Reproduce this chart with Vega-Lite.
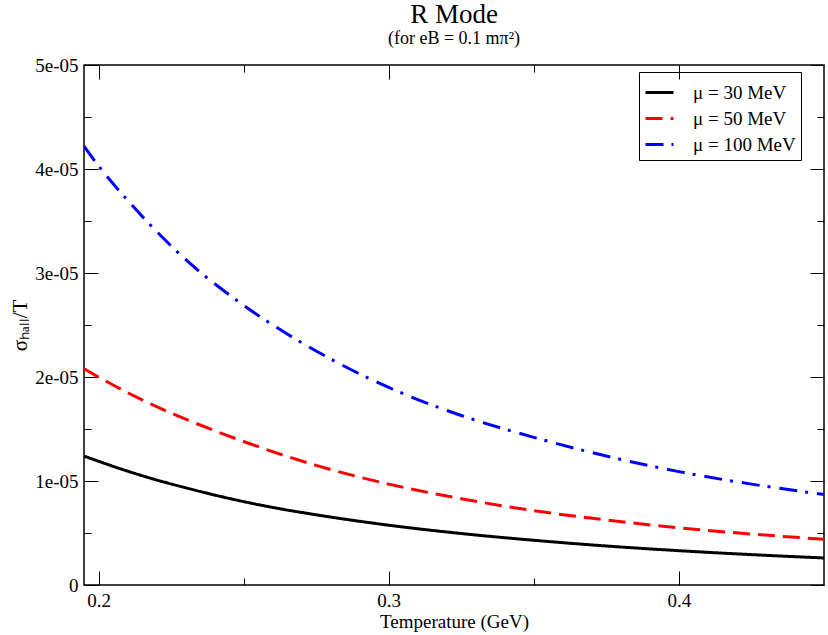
{
  "$schema": "https://vega.github.io/schema/vega-lite/v6.json",
  "width": 740,
  "height": 520,
  "autosize": "none",
  "padding": {"left": 84, "top": 65, "right": 4, "bottom": 50},
  "background": "white",
  "title": {
    "text": "R Mode",
    "subtitle": "(for eB = 0.1 mπ²)",
    "font": "Liberation Serif",
    "fontSize": 27,
    "fontWeight": "normal",
    "subtitleFont": "Liberation Serif",
    "subtitleFontSize": 18,
    "subtitlePadding": 1,
    "anchor": "middle",
    "offset": 7,
    "color": "black",
    "subtitleColor": "black"
  },
  "config": {
    "view": {"stroke": "black", "strokeWidth": 1.5},
    "axis": {
      "labelFont": "Liberation Serif",
      "titleFont": "Liberation Serif",
      "labelFontSize": 19,
      "titleFontSize": 19,
      "titleFontWeight": "normal",
      "labelColor": "black",
      "titleColor": "black",
      "tickColor": "black",
      "tickWidth": 1,
      "domain": false,
      "grid": false
    },
    "legend": {
      "labelFont": "Liberation Serif",
      "labelFontSize": 19,
      "labelColor": "black"
    }
  },
  "data": {
    "values": [
      {"T": 0.195, "value": 1.24e-5, "mu": "μ = 30 MeV"},
      {"T": 0.2, "value": 1.19e-5, "mu": "μ = 30 MeV"},
      {"T": 0.21, "value": 1.095e-5, "mu": "μ = 30 MeV"},
      {"T": 0.22, "value": 1.01e-5, "mu": "μ = 30 MeV"},
      {"T": 0.23, "value": 0.935e-5, "mu": "μ = 30 MeV"},
      {"T": 0.24, "value": 0.865e-5, "mu": "μ = 30 MeV"},
      {"T": 0.25, "value": 0.802e-5, "mu": "μ = 30 MeV"},
      {"T": 0.26, "value": 0.746e-5, "mu": "μ = 30 MeV"},
      {"T": 0.275, "value": 0.675e-5, "mu": "μ = 30 MeV"},
      {"T": 0.3, "value": 0.575e-5, "mu": "μ = 30 MeV"},
      {"T": 0.325, "value": 0.495e-5, "mu": "μ = 30 MeV"},
      {"T": 0.35, "value": 0.43e-5, "mu": "μ = 30 MeV"},
      {"T": 0.375, "value": 0.375e-5, "mu": "μ = 30 MeV"},
      {"T": 0.4, "value": 0.33e-5, "mu": "μ = 30 MeV"},
      {"T": 0.425, "value": 0.292e-5, "mu": "μ = 30 MeV"},
      {"T": 0.45, "value": 0.26e-5, "mu": "μ = 30 MeV"},
      {"T": 0.195, "value": 2.08e-5, "mu": "μ = 50 MeV"},
      {"T": 0.2, "value": 2.0e-5, "mu": "μ = 50 MeV"},
      {"T": 0.21, "value": 1.85e-5, "mu": "μ = 50 MeV"},
      {"T": 0.22, "value": 1.715e-5, "mu": "μ = 50 MeV"},
      {"T": 0.23, "value": 1.595e-5, "mu": "μ = 50 MeV"},
      {"T": 0.25, "value": 1.38e-5, "mu": "μ = 50 MeV"},
      {"T": 0.275, "value": 1.15e-5, "mu": "μ = 50 MeV"},
      {"T": 0.3, "value": 0.97e-5, "mu": "μ = 50 MeV"},
      {"T": 0.325, "value": 0.83e-5, "mu": "μ = 50 MeV"},
      {"T": 0.35, "value": 0.715e-5, "mu": "μ = 50 MeV"},
      {"T": 0.375, "value": 0.625e-5, "mu": "μ = 50 MeV"},
      {"T": 0.4, "value": 0.55e-5, "mu": "μ = 50 MeV"},
      {"T": 0.425, "value": 0.49e-5, "mu": "μ = 50 MeV"},
      {"T": 0.45, "value": 0.44e-5, "mu": "μ = 50 MeV"},
      {"T": 0.195, "value": 4.22e-5, "mu": "μ = 100 MeV"},
      {"T": 0.2, "value": 4.03e-5, "mu": "μ = 100 MeV"},
      {"T": 0.21, "value": 3.7e-5, "mu": "μ = 100 MeV"},
      {"T": 0.22, "value": 3.4e-5, "mu": "μ = 100 MeV"},
      {"T": 0.23, "value": 3.13e-5, "mu": "μ = 100 MeV"},
      {"T": 0.25, "value": 2.69e-5, "mu": "μ = 100 MeV"},
      {"T": 0.275, "value": 2.25e-5, "mu": "μ = 100 MeV"},
      {"T": 0.3, "value": 1.9e-5, "mu": "μ = 100 MeV"},
      {"T": 0.325, "value": 1.63e-5, "mu": "μ = 100 MeV"},
      {"T": 0.35, "value": 1.42e-5, "mu": "μ = 100 MeV"},
      {"T": 0.375, "value": 1.24e-5, "mu": "μ = 100 MeV"},
      {"T": 0.4, "value": 1.09e-5, "mu": "μ = 100 MeV"},
      {"T": 0.425, "value": 0.97e-5, "mu": "μ = 100 MeV"},
      {"T": 0.45, "value": 0.87e-5, "mu": "μ = 100 MeV"}
    ]
  },
  "resolve": {"axis": {"x": "independent", "y": "independent"}},
  "layer": [
    {
      "mark": {"type": "line", "strokeWidth": 3, "interpolate": "monotone", "clip": true},
      "encoding": {
        "x": {
          "field": "T", "type": "quantitative",
          "scale": {"domain": [0.195, 0.45], "nice": false, "zero": false},
          "axis": {
            "orient": "bottom", "values": [0.2, 0.3, 0.4], "format": ".1f",
            "tickSize": -14, "labelPadding": 20, "title": "Temperature (GeV)", "titlePadding": 2
          }
        },
        "y": {
          "field": "value", "type": "quantitative",
          "scale": {"domain": [0, 5e-5], "nice": false},
          "axis": {
            "orient": "left", "values": [0, 1e-5, 2e-5, 3e-5, 4e-5, 5e-5],
            "labelExpr": "datum.value == 0 ? '0' : round(datum.value * 1e5) + 'e-05'",
            "tickSize": -14, "labelPadding": 20, "title": "σₕₐₗₗ/T", "titleFontSize": 21, "titlePadding": 4
          }
        },
        "color": {
          "field": "mu", "type": "nominal",
          "scale": {"domain": ["μ = 30 MeV", "μ = 50 MeV", "μ = 100 MeV"], "range": ["#000000", "#ff0000", "#0000ff"]},
          "legend": {
            "title": null, "orient": "none", "legendX": 555, "legendY": 7,
            "symbolType": "stroke", "symbolSize": 784, "symbolStrokeWidth": 3,
            "strokeColor": "black", "padding": 5, "rowPadding": 0, "labelOffset": 18
          }
        },
        "strokeDash": {
          "field": "mu", "type": "nominal",
          "scale": {"domain": ["μ = 30 MeV", "μ = 50 MeV", "μ = 100 MeV"], "range": [[1, 0], [17, 8], [18, 8, 3, 9]]},
          "legend": {
            "title": null, "orient": "none", "legendX": 555, "legendY": 7,
            "symbolType": "stroke", "symbolSize": 784, "symbolStrokeWidth": 3,
            "strokeColor": "black", "padding": 5, "rowPadding": 0, "labelOffset": 18
          }
        }
      }
    },
    {
      "mark": {"type": "point", "opacity": 0},
      "encoding": {
        "x": {"field": "T", "type": "quantitative",
          "axis": {"orient": "bottom", "values": [0.25, 0.35], "labels": false, "title": null, "tickSize": -7}},
        "y": {"field": "value", "type": "quantitative",
          "axis": {"orient": "left", "values": [0.5e-5, 1.5e-5, 2.5e-5, 3.5e-5, 4.5e-5], "labels": false, "title": null, "tickSize": -7}}
      }
    },
    {
      "mark": {"type": "point", "opacity": 0},
      "encoding": {
        "x": {"field": "T", "type": "quantitative",
          "axis": {"orient": "top", "values": [0.2, 0.3, 0.4], "labels": false, "title": null, "tickSize": -14}},
        "y": {"field": "value", "type": "quantitative",
          "axis": {"orient": "right", "values": [0, 1e-5, 2e-5, 3e-5, 4e-5, 5e-5], "labels": false, "title": null, "tickSize": -14}}
      }
    },
    {
      "mark": {"type": "point", "opacity": 0},
      "encoding": {
        "x": {"field": "T", "type": "quantitative",
          "axis": {"orient": "top", "values": [0.25, 0.35], "labels": false, "title": null, "tickSize": -7}},
        "y": {"field": "value", "type": "quantitative",
          "axis": {"orient": "right", "values": [0.5e-5, 1.5e-5, 2.5e-5, 3.5e-5, 4.5e-5], "labels": false, "title": null, "tickSize": -7}}
      }
    }
  ]
}
